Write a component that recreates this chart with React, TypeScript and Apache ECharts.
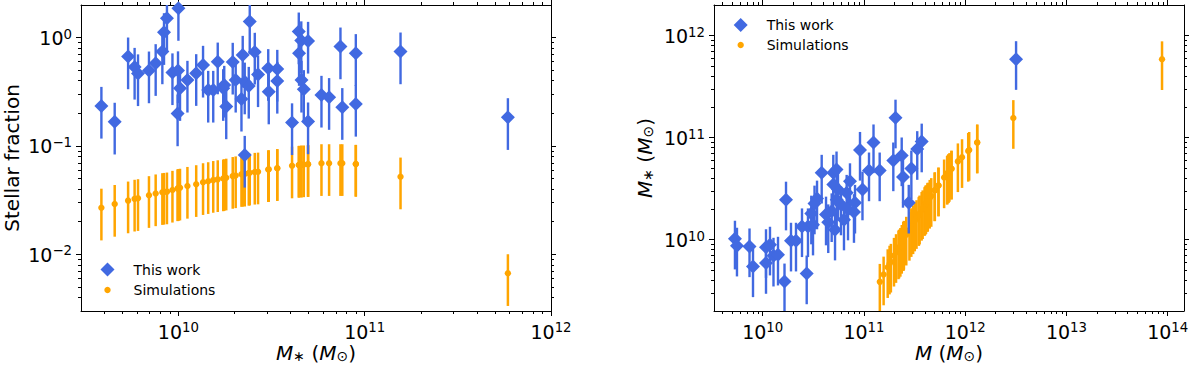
import React, { useEffect, useRef } from "react";
import * as echarts from "echarts";

// ---------- Data ----------
// Left panel: stellar mass M* (Msun) of each object, observed and simulated stellar fraction
const stellarMass = [
  3.86e9, 4.55e9, 5.37e9, 5.82e9, 6.07e9, 6.95e9, 7.55e9, 8.2e9, 8.37e9, 8.68e9,
  1.0e10, 9.29e9, 9.95e9, 1.02e10, 1.118e10, 9.9e9, 1.246e10, 1.356e10, 1.626e10, 1.445e10,
  1.538e10, 1.74e10, 1.806e10, 1.957e10, 2.214e10, 2.415e10, 2.57e10, 2.676e10, 2.27e10, 2.18e10,
  2.27e10, 3.035e10, 3.055e10, 3.394e10, 3.394e10, 4.074e10, 4.427e10, 4.566e10, 4.966e10, 4.443e10,
  4.577e10, 4.71e10, 4.966e10, 5.86e10, 6.44e10, 7.41e10, 7.58e10, 8.96e10, 8.96e10, 1.557e11,
  5.87e11, 2.03e10, 2.386e10, 1.762e10,
];
const fracObs = [
  0.234, 0.167, 0.668, 0.536, 0.467, 0.496, 0.58, 0.743, 1.12, 1.51,
  1.87, 0.477, 0.498, 0.341, 0.407, 0.199, 0.469, 0.56, 0.6, 0.329,
  0.329, 0.341, 0.231, 0.597, 0.692, 1.405, 0.738, 0.457, 0.392, 0.272,
  0.0826, 0.522, 0.317, 0.514, 0.398, 0.165, 1.136, 0.942, 0.932, 0.718,
  0.407, 0.334, 0.168, 0.296, 0.282, 0.826, 0.228, 0.718, 0.244, 0.743,
  0.184, 0.407, 0.358, 0.366,
];
const fracSim = [
  0.0269, 0.0291, 0.0313, 0.0325, 0.0329, 0.0351, 0.0364, 0.0374, 0.0376, 0.0379,
  0.0407, 0.0393, 0.0406, 0.0411, 0.0427, 0.0405, 0.0443, 0.0462, 0.0492, 0.0472,
  0.0484, 0.05, 0.0509, 0.0527, 0.0551, 0.0565, 0.0576, 0.0579, 0.0555, 0.0549,
  0.0555, 0.0608, 0.0609, 0.0623, 0.0623, 0.0658, 0.0668, 0.0671, 0.0678, 0.0668,
  0.0671, 0.0674, 0.0678, 0.0692, 0.0692, 0.0692, 0.0692, 0.0682, 0.0682, 0.0521,
  0.00668, 0.0534, 0.0563, 0.0503,
];
// Right panel, simulations: halo mass (x) for each stellar mass above (y)
const haloSim = [
  1.435e11, 1.564e11, 1.716e11, 1.791e11, 1.845e11, 1.98e11, 2.074e11, 2.193e11, 2.226e11, 2.29e11,
  2.457e11, 2.364e11, 2.451e11, 2.482e11, 2.618e11, 2.444e11, 2.813e11, 2.935e11, 3.305e11, 3.061e11,
  3.178e11, 3.48e11, 3.548e11, 3.713e11, 4.018e11, 4.274e11, 4.462e11, 4.622e11, 4.09e11, 3.971e11,
  4.09e11, 4.992e11, 5.016e11, 5.448e11, 5.448e11, 6.191e11, 6.627e11, 6.805e11, 7.324e11, 6.651e11,
  6.821e11, 6.988e11, 7.324e11, 8.468e11, 9.306e11, 1.071e12, 1.095e12, 1.314e12, 1.314e12, 2.988e12,
  8.79e13, 3.801e11, 4.238e11, 3.503e11,
];
// Right panel, this work: halo mass (x) and stellar mass (y)
const haloObs = [
  5.32e9, 5.57e9, 7.41e9, 8.02e9, 1.078e10, 1.078e10, 1.278e10, 1.416e10, 1.642e10, 1.699e10,
  1.903e10, 2.132e10, 2.444e10, 2.72e10, 2.8e10, 3.02e10, 3.25e10, 3.44e10, 3.825e10, 4.44e10,
  4.8e10, 4.98e10, 5.36e10, 5.38e10, 4.98e10, 5.18e10, 6.75e10, 7.28e10, 8.16e10, 7.97e10,
  9.14e10, 9.67e10, 1.122e11, 1.243e11, 1.43e11, 2.05e11, 1.95e11, 2.36e11, 2.43e11, 2.94e11,
  2.77e11, 3.36e11, 3.72e11, 3.18e12, 5.93e10, 6.35e10, 5.54e10, 6.96e10, 4.22e10, 3.14e10,
  1.18e10,
];
const stellarObsRight = [
  1.023e10, 8.73e9, 8.59e9, 5.47e9, 8.44e9, 5.9e9, 6.96e9, 7.12e9, 3.89e9, 2.47e10,
  9.77e9, 9.77e9, 1.351e10, 4.66e9, 1.351e10, 1.802e10, 2.26e10, 2.53e10, 4.53e10, 1.48e10,
  1.898e10, 4.53e10, 4.88e10, 2.47e10, 3.47e10, 1.254e10, 2.88e10, 3.74e10, 2.3e10, 1.864e10,
  7.59e10, 3.1e10, 4.77e10, 8.99e10, 4.77e10, 1.573e11, 5.98e10, 6.7e10, 4.12e10, 4.99e10,
  2.3e10, 7.73e10, 9.16e10, 5.89e11, 2.21e10, 1.573e10, 3.1e10, 1.972e10, 1.762e10, 1.404e10,
  8.93e9,
];
const REL_ERR = 0.5; // error bars are +/- 50 %
const legendNames = ["This work", "Simulations"];

// ---------- Styling ----------
const BLUE = "#4169E1";
const ORANGE = "#FFA500";
const FONT = "DejaVu Sans";

const L = Math.log10;

function majors(lo: number, hi: number) {
  const out: number[] = [];
  for (let e = Math.ceil(lo - 1e-9); e <= Math.floor(hi + 1e-9); e++) out.push(e);
  return out;
}
function minors(lo: number, hi: number) {
  const out: number[] = [];
  for (let e = Math.floor(lo) - 1; e <= Math.ceil(hi); e++) {
    for (let k = 2; k <= 9; k++) {
      const v = e + Math.log10(k);
      if (v > lo + 1e-6 && v < hi - 1e-6) out.push(v);
    }
  }
  return out;
}

const tickFmt = (v: number) => {
  const e = Math.round(v);
  return `{b|10}{s|${e < 0 ? "\u2212" + -e : e}}`;
};
const tickRich = {
  b: { fontFamily: FONT, fontSize: 19, lineHeight: 20, color: "#000", verticalAlign: "bottom" },
  s: { fontFamily: FONT, fontSize: 13.3, lineHeight: 9, color: "#000", verticalAlign: "top" },
};

const lineStyle = { color: "#000", width: 1 };

function axesFor(dim: "x" | "y", g: number, min: number, max: number) {
  const maj = majors(min, max);
  const mn = minors(min, max);
  const sides = dim === "x" ? ["bottom", "top"] : ["left", "right"];
  const base = {
    type: "value",
    gridIndex: g,
    min,
    max,
    splitLine: { show: false },
    axisLabel: { show: false },
  };
  const out: any[] = [];
  sides.forEach((pos, si) => {
    out.push({
      ...base,
      position: pos,
      axisLine: { show: true, onZero: false, lineStyle },
      axisTick: { show: true, customValues: maj, length: 5, lineStyle },
      axisLabel:
        si === 0
          ? {
              show: true,
              customValues: maj,
              formatter: tickFmt,
              rich: tickRich,
              margin: dim === "x" ? 10 : 9,
            }
          : { show: false },
    });
    out.push({
      ...base,
      position: pos,
      axisLine: { show: false, onZero: false },
      axisTick: { show: true, customValues: mn, length: 3, lineStyle },
    });
  });
  return out;
}

function errorBars(data: number[][], color: string, width: number, xi: number, yi: number, z: number) {
  return {
    type: "custom",
    xAxisIndex: xi,
    yAxisIndex: yi,
    clip: true,
    z,
    silent: true,
    data,
    encode: { x: 0, y: [1, 2] },
    renderItem: (_p: any, api: any) => {
      const x = api.value(0);
      const a = api.coord([x, api.value(1)]);
      const b = api.coord([x, api.value(2)]);
      return {
        type: "line",
        shape: { x1: a[0], y1: a[1], x2: b[0], y2: b[1] },
        style: { stroke: color, lineWidth: width },
      };
    },
  };
}

function points(name: string, data: number[][], symbol: string, size: number, color: string, xi: number, yi: number, z: number) {
  return {
    type: "scatter",
    name,
    xAxisIndex: xi,
    yAxisIndex: yi,
    symbol,
    symbolSize: size,
    itemStyle: { color, opacity: 1 },
    z,
    silent: true,
    data,
  };
}

function legendGraphic(x: number, y1: number, y2: number) {
  return [
    {
      type: "polygon",
      shape: { points: [[x, y1 - 7], [x + 7, y1], [x, y1 + 7], [x - 7, y1]] },
      style: { fill: BLUE },
    },
    { type: "circle", shape: { cx: x, cy: y2, r: 3.2 }, style: { fill: ORANGE } },
    {
      type: "text",
      x: x + 26,
      y: y1,
      style: { text: legendNames[0], font: `14px '${FONT}'`, fill: "#000", align: "left", verticalAlign: "middle" },
    },
    {
      type: "text",
      x: x + 26,
      y: y2,
      style: { text: legendNames[1], font: `14px '${FONT}'`, fill: "#000", align: "left", verticalAlign: "middle" },
    },
  ];
}

const titleRich = {
  i: { fontFamily: FONT, fontSize: 20, fontStyle: "italic", lineHeight: 20, verticalAlign: "middle", fill: "#000" },
  r: { fontFamily: FONT, fontSize: 20, lineHeight: 20, verticalAlign: "middle", fill: "#000" },
  u: { fontFamily: FONT, fontSize: 14, lineHeight: 12, verticalAlign: "bottom", fill: "#000" },
};

function titleText(text: string, x: number, y: number, rot: number) {
  return {
    type: "text",
    x,
    y,
    rotation: rot,
    style: { text, rich: titleRich, align: "center", verticalAlign: "middle", fill: "#000", font: `20px '${FONT}'` },
  };
}

export default function App() {
  const ref = useRef<HTMLDivElement>(null);
  useEffect(() => {
    if (!ref.current) return;
    const chart = echarts.init(ref.current, undefined, { renderer: "svg" });

    const lx = [L(3e9), 12];
    const ly = [L(3e-3), L(2)];
    const rx = [9.519, 14.161];
    const ry = [L(2e9), L(2e12)];

    const xAxis = [...axesFor("x", 0, lx[0], lx[1]), ...axesFor("x", 1, rx[0], rx[1])];
    const yAxis = [...axesFor("y", 0, ly[0], ly[1]), ...axesFor("y", 1, ry[0], ry[1])];

    const leftBlue = stellarMass.map((m, i) => [L(m), L(fracObs[i])]);
    const leftBlueErr = stellarMass.map((m, i) => [L(m), L(fracObs[i] * (1 - REL_ERR)), L(fracObs[i] * (1 + REL_ERR))]);
    const leftSim = stellarMass.map((m, i) => [L(m), L(fracSim[i])]);
    const leftSimErr = stellarMass.map((m, i) => [L(m), L(fracSim[i] * (1 - REL_ERR)), L(fracSim[i] * (1 + REL_ERR))]);

    const rightBlue = haloObs.map((h, i) => [L(h), L(stellarObsRight[i])]);
    const rightBlueErr = haloObs.map((h, i) => [L(h), L(stellarObsRight[i] * (1 - REL_ERR)), L(stellarObsRight[i] * (1 + REL_ERR))]);
    const rightSim = haloSim.map((h, i) => [L(h), L(stellarMass[i])]);
    const rightSimErr = haloSim.map((h, i) => [L(h), L(stellarMass[i] * (1 - REL_ERR)), L(stellarMass[i] * (1 + REL_ERR))]);

    chart.setOption({
      animation: false,
      backgroundColor: "#fff",
      textStyle: { fontFamily: FONT },
      grid: [
        { left: 81, top: 5, width: 470, height: 306, outerBoundsMode: "none" },
        { left: 714, top: 5, width: 470, height: 306, outerBoundsMode: "none" },
      ],
      xAxis,
      yAxis,
      series: [
        errorBars(leftSimErr, ORANGE, 2.5, 0, 0, 2),
        points(legendNames[1], leftSim, "circle", 6.4, ORANGE, 0, 0, 3),
        errorBars(leftBlueErr, BLUE, 2.4, 0, 0, 4),
        points(legendNames[0], leftBlue, "diamond", 14, BLUE, 0, 0, 5),
        errorBars(rightSimErr, ORANGE, 2.5, 4, 4, 2),
        points(legendNames[1], rightSim, "circle", 6.4, ORANGE, 4, 4, 3),
        errorBars(rightBlueErr, BLUE, 2.4, 4, 4, 4),
        points(legendNames[0], rightBlue, "diamond", 14, BLUE, 4, 4, 5),
      ],
      graphic: [
        ...legendGraphic(107.5, 269.5, 290),
        ...legendGraphic(740.7, 25, 45),
        titleText("Stellar fraction", 12, 158, Math.PI / 2),
        titleText("{i|M}{u|\u2217} {r|(}{i|M}{u|\u2299}{r|)}", 316, 353, 0),
        titleText("{i|M}{u|\u2217} {r|(}{i|M}{u|\u2299}{r|)}", 645, 158, Math.PI / 2),
        titleText("{i|M} {r|(}{i|M}{u|\u2299}{r|)}", 949, 353, 0),
      ],
    });
    return () => chart.dispose();
  }, []);
  return (
    <div
      ref={ref}
      style={{ position: "fixed", left: 0, top: 0, width: 1200, height: 365, background: "#fff" }}
    />
  );
}
